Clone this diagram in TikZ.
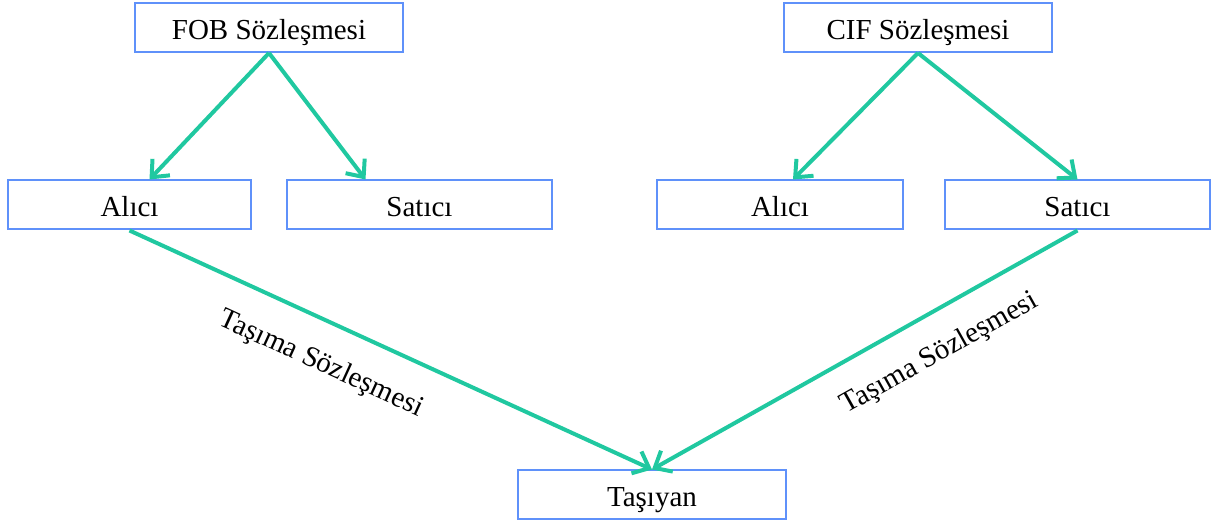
\documentclass[tikz,border=0pt]{standalone}
\usepackage{fontspec}
\setmainfont{Liberation Serif}
\usepackage{tikz}
\usetikzlibrary{arrows.meta}

\definecolor{kutumavi}{RGB}{95,145,250}
\definecolor{okyesil}{RGB}{32,200,160}

\begin{document}
\begin{tikzpicture}[x = 0.5pt , y = 0.5pt ,
    kutu/.style = {draw = kutumavi , line width = 1pt , minimum height = 24.5pt , inner sep = 0pt , text height = 14pt , text depth = 2.4pt , font = \fontsize{14.5pt}{17pt}\selectfont},
    ok/.style = {draw = okyesil , line width = 2pt , -{Straight Barb[length = 7pt , width = 12pt]}},
    etiket/.style = {font = \fontsize{14.5pt}{17pt}\selectfont , sloped}]
    \useasboundingbox (0,0) rectangle (1216,524);
    % Sözleşmeler
    \node[kutu , minimum width = 134pt] (fob) at (269, 496.5) {FOB Sözleşmesi};
    \node[kutu , minimum width = 134pt] (cif) at (918, 496.5) {CIF Sözleşmesi};
    % Taraflar
    \node[kutu , minimum width = 121.5pt] (alici1) at (129.5, 319) {Alıcı};
    \node[kutu , minimum width = 132.5pt] (satici1) at (419.5, 319) {Satıcı};
    \node[kutu , minimum width = 123pt] (alici2) at (780, 319) {Alıcı};
    \node[kutu , minimum width = 132.5pt] (satici2) at (1077.5, 319) {Satıcı};
    \node[kutu , minimum width = 134pt] (tasiyan) at (652, 29) {Taşıyan};
    % Oklar
    \draw[ok] (fob.south) -- ([xshift = 10pt]alici1.north);
    \draw[ok] (fob.south) -- ([xshift = -27pt]satici1.north);
    \draw[ok] (cif.south) -- ([xshift = 6.5pt]alici2.north);
    \draw[ok] (cif.south) -- (satici2.north);
    \draw[ok] (alici1.south) -- (tasiyan.north) node[etiket , pos = 0.4 , below = 10pt]{Taşıma Sözleşmesi};
    \draw[ok] (satici2.south) -- (tasiyan.north) node[etiket , pos = 0.37 , below = 9pt]{Taşıma Sözleşmesi};
\end{tikzpicture}
\end{document}
